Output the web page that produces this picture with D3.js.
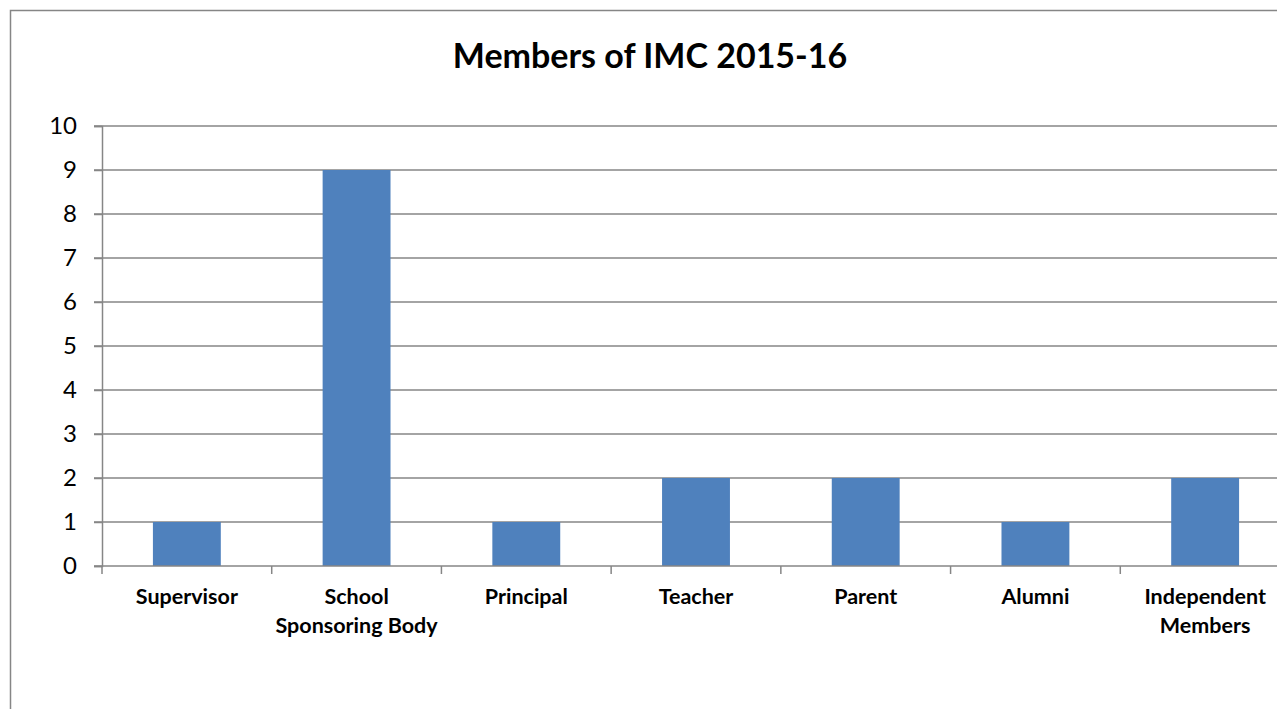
<!DOCTYPE html>
<html>
<head>
<meta charset="utf-8">
<script src="https://cdn.jsdelivr.net/npm/d3@7"></script>
<style>
  body { margin: 0; background: #fff; overflow: hidden; }
  svg { display: block; }
  text { font-family: Lato, "Open Sans", sans-serif; fill: #000; }
</style>
</head>
<body>
<svg id="chart" width="1277" height="709"></svg>
<script>
// data
var categories = ['Supervisor', 'School\nSponsoring Body', 'Principal', 'Teacher', 'Parent', 'Alumni', 'Independent\nMembers'];
var members = [1, 9, 1, 2, 2, 1, 2];
var yTicks = [0, 1, 2, 3, 4, 5, 6, 7, 8, 9, 10];
var title = 'Members of IMC 2015-16';

var svg = d3.select('#chart');

// chart frame (runs past the window on right and bottom)
svg.append('rect')
    .attr('x', 10.5).attr('y', 10.5)
    .attr('width', 1400).attr('height', 800)
    .attr('fill', 'none').attr('stroke', '#868686').attr('stroke-width', 1.5);

var x = d3.scaleBand().domain(d3.range(categories.length)).range([102, 1290]).paddingInner(0.6).paddingOuter(0.3);
var xEdge = d3.scaleLinear().domain([0, categories.length]).range([102, 1290]);
var y = d3.scaleLinear().domain([0, 10]).range([566, 126]);

// gridlines
svg.append('g').selectAll('line').data(yTicks.filter(function(d){ return d > 0; })).enter().append('line')
    .attr('x1', 94).attr('x2', 1290)
    .attr('y1', function(d){ return y(d); }).attr('y2', function(d){ return y(d); })
    .attr('stroke', '#868686').attr('stroke-width', 1.5);

// bars
svg.append('g').selectAll('rect').data(members).enter().append('rect')
    .attr('x', function(d, i){ return x(i); })
    .attr('width', x.bandwidth())
    .attr('y', function(d){ return y(d); })
    .attr('height', function(d){ return y(0) - y(d); })
    .attr('fill', '#4F81BD');

// y axis
var yAxis = svg.append('g').attr('transform', 'translate(102,0)')
    .call(d3.axisLeft(y).tickValues(yTicks).tickSize(8).tickPadding(17).tickFormat(d3.format('d')));
yAxis.select('.domain').attr('stroke', '#868686').attr('stroke-width', 1.5);
yAxis.selectAll('.tick line').attr('stroke', '#868686').attr('stroke-width', 1.5);
yAxis.selectAll('.tick text').attr('font-size', 24).attr('font-family', 'Lato, sans-serif').attr('fill', '#000');

// x axis line and ticks
svg.append('line').attr('x1', 94).attr('x2', 1290).attr('y1', y(0)).attr('y2', y(0))
    .attr('stroke', '#868686').attr('stroke-width', 1.5);
svg.append('g').selectAll('line').data(d3.range(categories.length + 1)).enter().append('line')
    .attr('x1', function(d){ return xEdge(d); }).attr('x2', function(d){ return xEdge(d); })
    .attr('y1', y(0)).attr('y2', y(0) + 8)
    .attr('stroke', '#868686').attr('stroke-width', 1.5);

// category labels
var lab = svg.append('g').selectAll('text').data(categories).enter().append('text')
    .attr('text-anchor', 'middle')
    .attr('font-size', 21.5).attr('font-weight', 'bold')
    .attr('transform', function(d, i){ return 'translate(' + (x(i) + x.bandwidth() / 2) + ',604)'; });
lab.each(function(d){
    var t = d3.select(this);
    d.split('\n').forEach(function(s, k){
        t.append('tspan').attr('x', 0).attr('dy', k === 0 ? 0 : 29).text(s);
    });
});

// title
svg.append('text').attr('x', 650).attr('y', 68).attr('text-anchor', 'middle')
    .attr('font-size', 34).attr('font-weight', 'bold').text(title);
</script>
</body>
</html>
